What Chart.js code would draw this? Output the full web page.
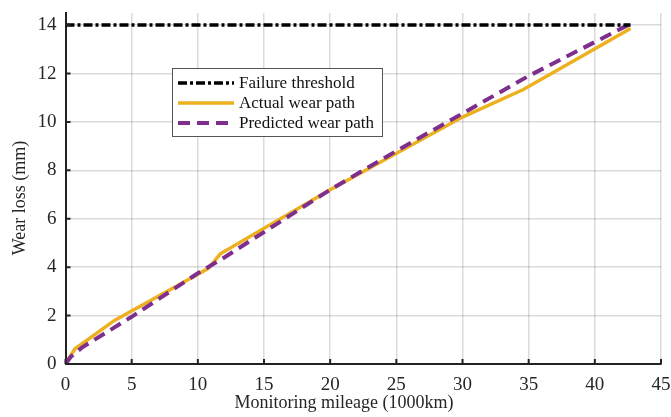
<!DOCTYPE html>
<html lang="en">
<head>
    <meta charset="UTF-8">
    <title>Wear loss vs monitoring mileage</title>
    <script src="https://cdn.jsdelivr.net/npm/chart.js"></script>
    <style>
        body { margin: 0; background: #fff; }
    </style>
</head>
<body>
<canvas id="myChart" width="671" height="417"></canvas>

<script>
    // values
    const thresholdValue = 14;
    const thresholdX = [0, 42.7];

    const actualX = [0, 0.7, 3.7, 8.0, 10.8, 11.7, 20, 30, 34.6, 42.7];
    const actualY = [0, 0.62, 1.8, 3.1, 3.95, 4.55, 7.2, 10.2, 11.34, 13.86];

    const predX = [0, 0.4, 1.3, 5, 10, 12, 20, 25, 30, 35, 40, 42.5];
    const predY = [0, 0.3, 0.7, 1.95, 3.75, 4.4, 7.2, 8.8, 10.35, 11.9, 13.3, 14.0];

    const xTicks = [0, 5, 10, 15, 20, 25, 30, 35, 40, 45];
    const yTicks = [0, 2, 4, 6, 8, 10, 12, 14];

    const xTitle = 'Monitoring mileage (1000km)';
    const yTitle = 'Wear loss (mm)';

    const serif = "'Liberation Serif', 'Times New Roman', serif";

    function toPoints(xs, ys) {
        return xs.map((x, i) => ({ x: x, y: ys[i] }));
    }

    // small ticks pointing into the plot + axis titles
    // (the titles sit a little off the plot centre in the original, so they're drawn here)
    const axisExtras = {
        id: 'axisExtras',
        afterDraw(chart) {
            const { ctx, chartArea, scales } = chart;
            ctx.save();
            ctx.strokeStyle = '#222';
            ctx.lineWidth = 2;
            ctx.beginPath();
            xTicks.forEach(v => {
                const px = scales.x.getPixelForValue(v);
                ctx.moveTo(px, chartArea.bottom);
                ctx.lineTo(px, chartArea.bottom - 5);
            });
            yTicks.forEach(v => {
                const py = scales.y.getPixelForValue(v);
                ctx.moveTo(chartArea.left, py);
                ctx.lineTo(chartArea.left + 5, py);
            });
            ctx.stroke();

            ctx.fillStyle = '#262626';
            ctx.font = '18px ' + serif;
            ctx.textAlign = 'center';
            ctx.textBaseline = 'middle';
            ctx.fillText(xTitle, 344, 403);

            ctx.translate(20, 198);
            ctx.rotate(-Math.PI / 2);
            ctx.fillText(yTitle, 0, 0);
            ctx.restore();
        }
    };

    // legend box inside the plot
    const boxLegend = {
        id: 'boxLegend',
        afterDatasetsDraw(chart) {
            const ctx = chart.ctx;
            const x0 = 172, y0 = 68, w = 210, h = 68;
            ctx.save();
            ctx.fillStyle = '#fff';
            ctx.fillRect(x0, y0, w, h);
            ctx.strokeStyle = '#555';
            ctx.lineWidth = 1;
            ctx.strokeRect(x0 + 0.5, y0 + 0.5, w, h);
            ctx.font = '17px ' + serif;
            ctx.textBaseline = 'middle';
            ctx.fillStyle = '#111';
            chart.data.datasets.forEach((ds, i) => {
                const cy = y0 + 15 + i * 20;
                ctx.save();
                ctx.strokeStyle = ds.borderColor;
                ctx.lineWidth = ds.borderWidth;
                ctx.setLineDash(ds.borderDash || []);
                ctx.beginPath();
                ctx.moveTo(x0 + 6, cy);
                ctx.lineTo(x0 + 62, cy);
                ctx.stroke();
                ctx.restore();
                ctx.fillText(ds.label, x0 + 67, cy + 1);
            });
            ctx.restore();
        }
    };

    const ctx = document.getElementById('myChart').getContext('2d');
    const myChart = new Chart(ctx, {
        type: 'line',
        data: {
            datasets: [{
                label: 'Failure threshold',
                data: toPoints(thresholdX, thresholdX.map(() => thresholdValue)),
                borderColor: '#000',
                borderWidth: 3.5,
                borderDash: [9, 3, 3, 3],
                pointRadius: 0,
                order: 0
            }, {
                label: 'Actual wear path',
                data: toPoints(actualX, actualY),
                borderColor: '#EDB120',
                borderWidth: 3.5,
                pointRadius: 0,
                order: 2
            }, {
                label: 'Predicted wear path',
                data: toPoints(predX, predY),
                borderColor: '#7E2F8E',
                borderWidth: 4,
                borderDash: [12, 7],
                pointRadius: 0,
                order: 1
            }]
        },
        options: {
            responsive: false,
            animation: false,
            layout: { padding: { top: 13, right: 10, left: 0, bottom: 0 } },
            plugins: {
                legend: { display: false },
                tooltip: { enabled: false }
            },
            scales: {
                x: {
                    type: 'linear',
                    min: 0,
                    max: 45,
                    afterBuildTicks: s => { s.ticks = xTicks.map(v => ({ value: v })); },
                    afterFit: s => {
                        s.height = 53;
                        s.paddingLeft = 0;
                        s.paddingRight = 0;
                    },
                    ticks: {
                        color: '#262626',
                        font: { family: serif, size: 19 },
                        padding: 10,
                        maxRotation: 0
                    },
                    grid: { color: 'rgba(0,0,0,0.14)', lineWidth: 1.5, drawTicks: false },
                    border: { color: '#222', width: 2 }
                },
                y: {
                    min: 0,
                    max: 14.5,
                    afterBuildTicks: s => { s.ticks = yTicks.map(v => ({ value: v })); },
                    afterFit: s => {
                        s.width = 65.5;
                        s.paddingTop = 0;
                        s.paddingBottom = 0;
                    },
                    ticks: {
                        color: '#262626',
                        font: { family: serif, size: 19 },
                        padding: 9
                    },
                    grid: { color: 'rgba(0,0,0,0.14)', lineWidth: 1.5, drawTicks: false },
                    border: { color: '#222', width: 2 }
                }
            }
        },
        plugins: [axisExtras, boxLegend]
    });
</script>
</body>
</html>
